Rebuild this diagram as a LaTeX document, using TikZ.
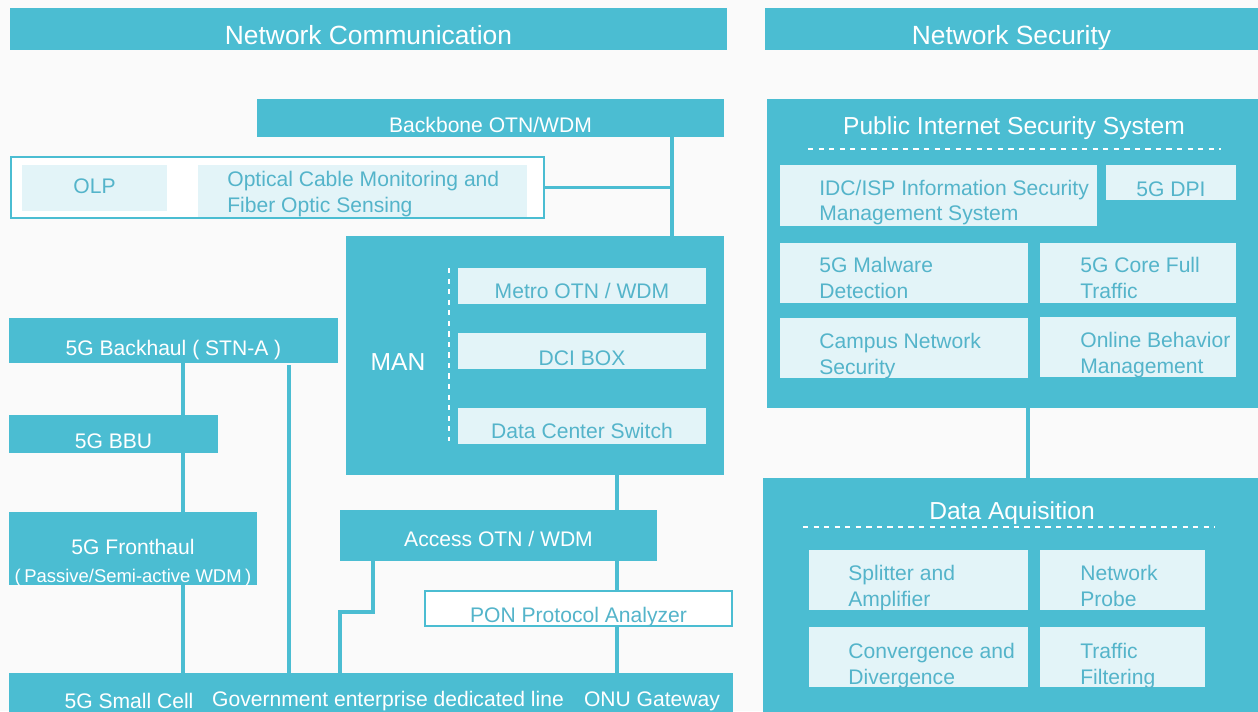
\documentclass[tikz,border=0pt]{standalone}
\usepackage{fontspec}
\setmainfont{Liberation Sans}
\usetikzlibrary{positioning,calc}
\definecolor{netblue}{RGB}{75,189,210}
\definecolor{netpale}{RGB}{227,244,248}
\definecolor{nettext}{RGB}{84,180,202}
\definecolor{netbg}{RGB}{250,250,250}

\begin{document}
\begin{tikzpicture}[x=0.02cm, y=-0.02cm, font=\fontsize{12}{14.7}\selectfont,
  box/.style 2 args={anchor=north west, minimum width=#1*0.02cm, minimum height=#2*0.02cm,
                     inner sep=0pt, outer sep=0pt},
  bar/.style={fill=netblue, draw=none, text=white},
  pale/.style={fill=netpale, draw=none, text=nettext},
  frame/.style={draw=netblue, line width=1.2pt, fill=white, text=nettext},
  low/.style={text height=#1, text depth=0pt},
  low/.default=0.54cm,
  headfont/.style={font=\fontsize{15}{18}\selectfont},
  titlefont/.style={font=\fontsize{14}{17}\selectfont},
  ptxt/.style={anchor=west, align=left, text=nettext, inner sep=0pt},
  wtxt/.style={text=white, inner sep=0pt},
  link/.style={draw=netblue, line width=2.2pt},
  dashsep/.style={draw=white, dashed, line width=0.8pt}]

  \path[use as bounding box, fill=netbg] (0,0) rectangle (1258,711);
  \clip (0,0) rectangle (1258,711);

  % headers
  \node[bar, box={717}{42}, headfont, low=0.62cm] (comhead) at (10,8) {Network Communication};
  \node[bar, box={493}{42}, headfont, low=0.62cm] (sechead) at (765,8) {Network Security};

  % backbone and monitoring
  \node[bar, box={467}{38}, low=0.58cm] (backbone) at (257,99) {Backbone OTN/WDM};
  \node[frame, box={533}{61}] (monitor) at (11,157) {};
  \node[pale, box={145}{46}, low=0.22cm] (olp) at (22,165) {OLP};
  \node[pale, box={329}{52}] (ocm) at (198,165) {};
  \node[ptxt] (ocmtxt) at ($(ocm.west)+(29,3)$) {Optical Cable Monitoring and\\Fiber Optic Sensing};

  % MAN
  \node[bar, box={378}{239}] (man) at (346,236) {};
  \node[wtxt, titlefont] (mantxt) at (398,362) {MAN};
  \node[pale, box={248}{36}, low=0.5cm] (metro) at (458,268) {Metro OTN / WDM};
  \node[pale, box={248}{36}, low=0.58cm] (dci) at (458,333) {DCI BOX};
  \node[pale, box={248}{36}, low=0.5cm] (dcs) at (458,408) {Data Center Switch};
  \draw[dashsep] ($(metro.north west)+(-9,0)$) -- ($(dcs.south west)+(-9,-3)$);

  % access
  \node[bar, box={317}{51}, low=0.42cm] (access) at (340,510) {Access OTN / WDM};
  \node[frame, box={307}{35}, low] (pon) at (425,591) {PON Protocol Analyzer};

  % 5G column
  \node[bar, box={329}{45}, low=0.58cm] (backhaul) at (9,318) {5G Backhaul ( STN-A )};
  \node[bar, box={209}{38}, low=0.58cm] (bbu) at (9,415) {5G BBU};
  \node[bar, box={248}{73}] (fronthaul) at (9,512) {};
  \node[wtxt, align=center] (fronttxt) at ($(fronthaul.center)+(0,14)$)
    {5G Fronthaul\\[1pt]{\fontsize{10.5}{13}\selectfont(\hspace{2pt}Passive/Semi-active WDM\hspace{2pt})}};

  % bottom bar
  \node[bar, box={724}{54}] (bottom) at (9,673) {};
  \node[wtxt] (cellt) at (129,701) {5G Small Cell};
  \node[wtxt] (linet) at (388,701) {Government enterprise dedicated line};
  \node[wtxt] (onut) at (652,701) {ONU Gateway};

  % connectors, left side
  \coordinate (trunk) at (672,0);
  \coordinate (acc) at (617,0);
  \coordinate (gov) at (373,0);
  \coordinate (govdrop) at (340,0);
  \coordinate (leftbus) at (183,0);
  \coordinate (linebus) at (289,0);
  \draw[link] (monitor.east) -- (monitor.east -| trunk);
  \draw[link] (backbone.south -| trunk) -- (man.north -| trunk);
  \draw[link] (man.south -| acc) -- (access.north -| acc);
  \draw[link] (access.south -| acc) -- (pon.north -| acc);
  \draw[link] (pon.south -| acc) -- (bottom.north -| acc);
  \draw[link] (access.south -| gov) -- ++(0,51) -| (bottom.north -| govdrop);
  \draw[link] (backhaul.south -| leftbus) -- (bbu.north -| leftbus);
  \draw[link] (bbu.south -| leftbus) -- (fronthaul.north -| leftbus);
  \draw[link] (fronthaul.south -| leftbus) -- (bottom.north -| leftbus);
  \draw[link] ($(backhaul.south -| linebus)+(0,2)$) -- (bottom.north -| linebus);

  % public internet security system
  \node[bar, box={491}{309}] (pubsec) at (767,99) {};
  \node[wtxt, titlefont] (pubtitle) at (1014,128) {Public Internet Security System};
  \draw[dashsep] (808,149) -- (1221,149);
  \node[pale, box={317}{61}] (idc) at (780,165) {};
  \node[pale, box={130}{35}, low] (dpi) at (1106,165) {5G DPI};
  \node[pale, box={248}{60}] (malware) at (780,243) {};
  \node[pale, box={196}{60}] (core) at (1040,243) {};
  \node[pale, box={248}{60}] (campus) at (780,318) {};
  \node[pale, box={196}{60}] (online) at (1040,317) {};
  \node[ptxt] (idctxt) at ($(idc.west)+(39,7)$) {IDC/ISP Information Security\\Management System};
  \node[ptxt] (malwaretxt) at ($(malware.west)+(39,5)$) {5G Malware\\Detection};
  \node[ptxt] (coretxt) at ($(core.west)+(40,5)$) {5G Core Full\\Traffic};
  \node[ptxt] (campustxt) at ($(campus.west)+(39,8)$) {Campus Network\\Security};
  \node[ptxt] (onlinetxt) at ($(online.west)+(40,8)$) {Online Behavior\\Management};

  % data aquisition
  \coordinate (seclink) at (1028,0);
  \node[bar, box={495}{249}] (dataacq) at (763,478) {};
  \draw[link] (pubsec.south -| seclink) -- (dataacq.north -| seclink);
  \node[wtxt, titlefont] (acqtitle) at (1012,513) {Data Aquisition};
  \draw[dashsep] (803,527) -- (1215,527);
  \node[pale, box={219}{60}] (splitter) at (809,550) {};
  \node[pale, box={165}{60}] (probe) at (1040,550) {};
  \node[pale, box={219}{60}] (conv) at (809,627) {};
  \node[pale, box={165}{60}] (filter) at (1040,627) {};
  \node[ptxt] (splittertxt) at ($(splitter.west)+(39,8)$) {Splitter and\\Amplifier};
  \node[ptxt] (probetxt) at ($(probe.west)+(40,6)$) {Network\\Probe};
  \node[ptxt] (convtxt) at ($(conv.west)+(39,9)$) {Convergence and\\Divergence};
  \node[ptxt] (filtertxt) at ($(filter.west)+(40,9)$) {Traffic\\Filtering};
\end{tikzpicture}
\end{document}
